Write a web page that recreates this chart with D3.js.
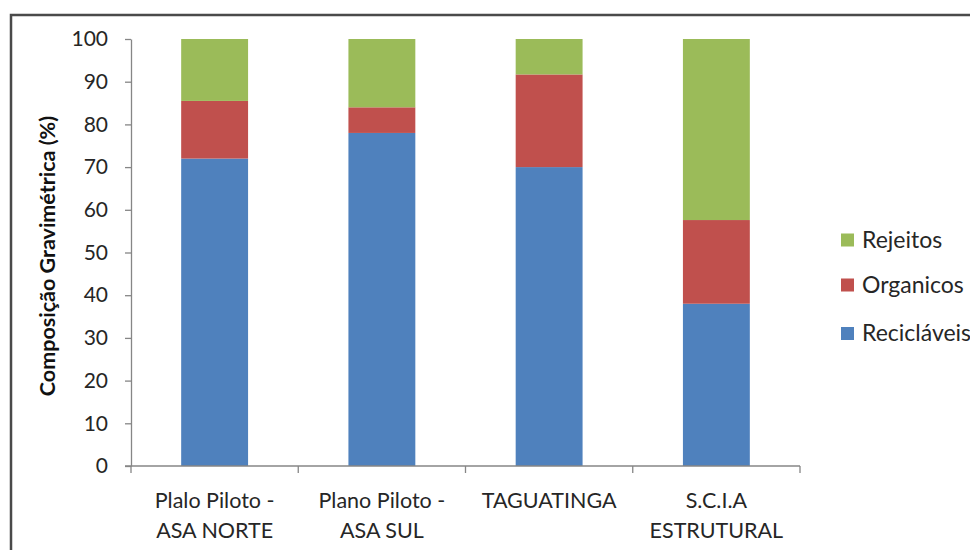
<!DOCTYPE html>
<html><head><meta charset="utf-8">
<script src="https://cdn.jsdelivr.net/npm/d3@7"></script>
<style>body{margin:0;background:#fff;} svg{display:block;}</style>
</head><body>
<script>
const categories = [["Plalo Piloto -","ASA NORTE"],["Plano Piloto -","ASA SUL"],["TAGUATINGA"],["S.C.I.A","ESTRUTURAL"]];
const reciclaveis = [72, 78, 70, 38];
const organicos = [13.5, 6, 21.7, 19.6];
const rejeitos = [14.5, 16, 8.3, 42.4];
const seriesNames = ["Recicláveis","Organicos","Rejeitos"];
const colors = ["#4F81BD","#C0504D","#9BBB59"];
const yTicks = [0,10,20,30,40,50,60,70,80,90,100];
const yTitle = "Composição Gravimétrica (%)";

const W=970,H=550;
const svg=d3.select("body").append("svg").attr("width",W).attr("height",H);
const font="Lato, 'Open Sans', sans-serif";
const txt="#262626";

svg.append("rect").attr("x",11).attr("y",15).attr("width",1000).attr("height",600)
  .attr("fill","#fff").attr("stroke","#4a4a4a").attr("stroke-width",2.5);

const x=d3.scaleBand().domain(d3.range(categories.length)).range([131,800]).paddingInner(0.6).paddingOuter(0.3);
const y=d3.scaleLinear().domain([0,100]).range([466,39]);

const rows=categories.map((c,i)=>({i,"Recicláveis":reciclaveis[i],"Organicos":organicos[i],"Rejeitos":rejeitos[i]}));
const stack=d3.stack().keys(seriesNames)(rows);

stack.forEach((s,k)=>{
  svg.append("g").selectAll("rect").data(s).join("rect")
    .attr("x",d=>x(d.data.i)).attr("width",x.bandwidth())
    .attr("y",d=>y(d[1])).attr("height",d=>y(d[0])-y(d[1]))
    .attr("fill",colors[k]);
});

// y axis
const ya=svg.append("g").attr("transform","translate(131,0)")
  .call(d3.axisLeft(y).tickValues(yTicks).tickSize(6).tickPadding(17).tickSizeOuter(0));
ya.select(".domain").attr("stroke","#868686").attr("stroke-width",1.3);
ya.selectAll(".tick line").attr("stroke","#868686").attr("stroke-width",1.3);
ya.selectAll(".tick text").attr("font-family",font).attr("font-size",21).attr("fill",txt);

// x axis line and ticks
const xa=svg.append("g");
xa.append("line").attr("x1",125).attr("x2",800).attr("y1",466).attr("y2",466).attr("stroke","#868686").attr("stroke-width",1.3);
const step=x.step();
const bounds=d3.range(categories.length+1).map(i=>131+i*step);
xa.selectAll("line.t").data(bounds).join("line").attr("class","t")
  .attr("x1",d=>d).attr("x2",d=>d).attr("y1",466).attr("y2",473).attr("stroke","#868686").attr("stroke-width",1.3);

// category labels
categories.forEach((c,i)=>{
  const cx=x(i)+x.bandwidth()/2;
  c.forEach((line,j)=>{
    svg.append("text").attr("x",cx).attr("y",508+j*30).attr("text-anchor","middle")
      .attr("font-family",font).attr("font-size",21.5).attr("fill",txt).text(line);
  });
});

// y title
svg.append("text").attr("transform","translate(55,256) rotate(-90)").attr("text-anchor","middle")
  .attr("font-family",font).attr("font-size",21.5).attr("font-weight","bold").attr("fill","#111").text(yTitle);

// legend
const legY=[333.5,285,240];
seriesNames.forEach((n,k)=>{
  svg.append("rect").attr("x",841).attr("y",legY[k]-6.5).attr("width",13).attr("height",13).attr("fill",colors[k]);
  svg.append("text").attr("x",862).attr("y",legY[k]+7.5)
    .attr("font-family",font).attr("font-size",23).attr("fill",txt).text(n);
});
</script>
</body></html>
